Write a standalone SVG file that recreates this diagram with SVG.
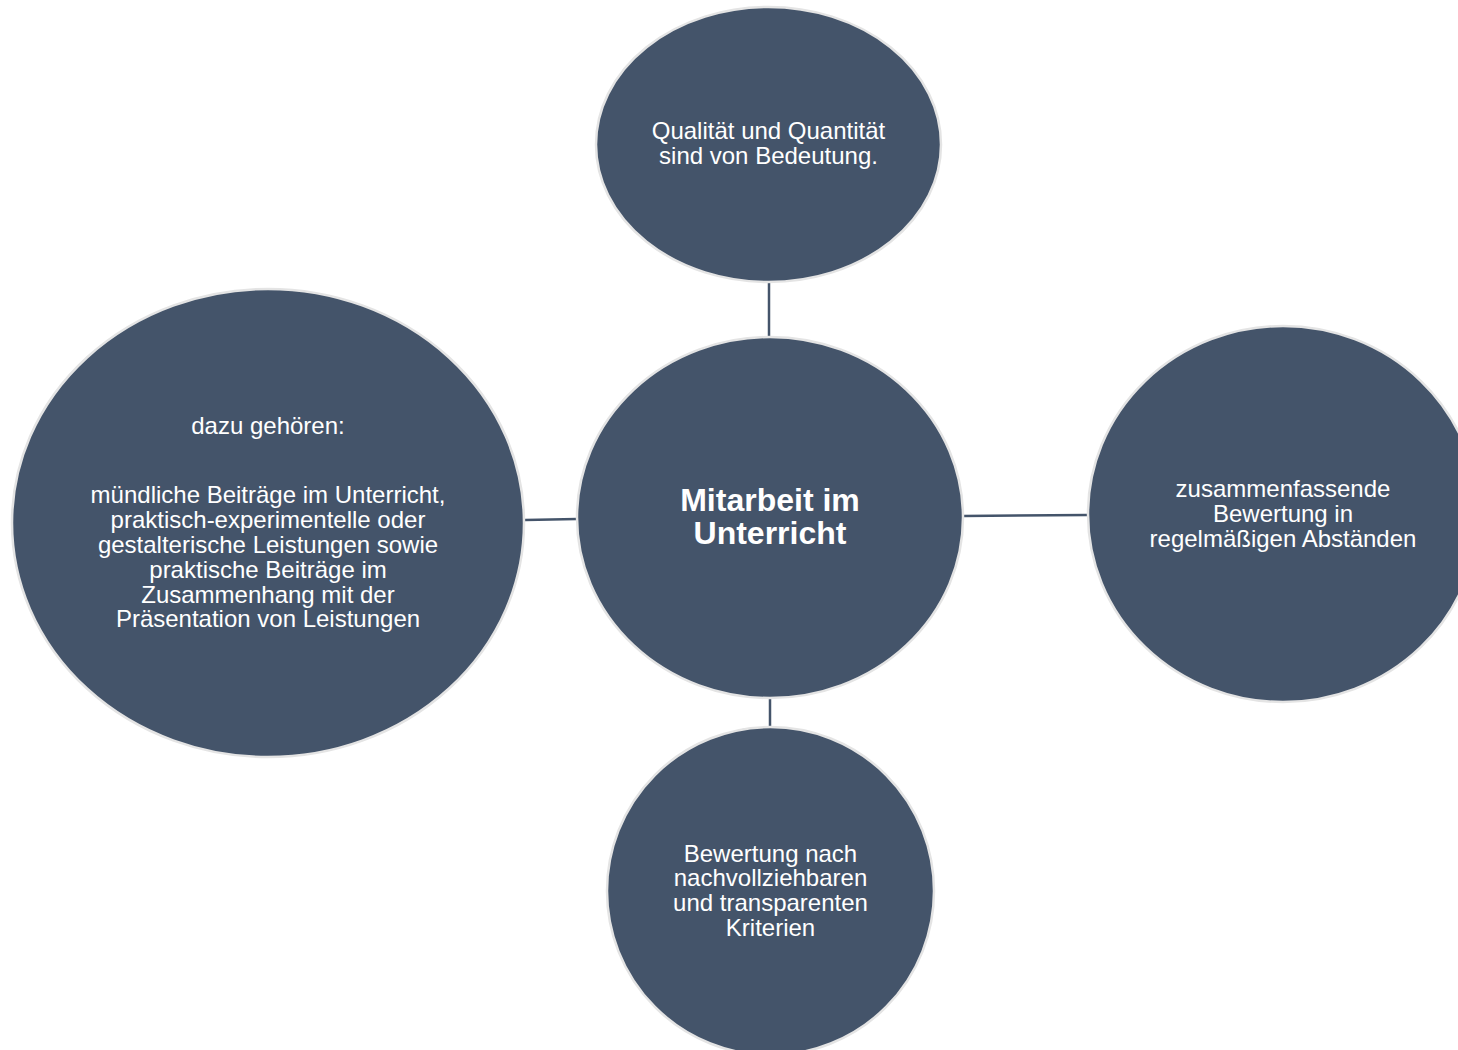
<svg xmlns="http://www.w3.org/2000/svg" width="1458" height="1050" viewBox="0 0 1458 1050">
  <style>
    .node { fill: #44546a; stroke: #e4e4e4; stroke-width: 2.5; }
    .edge { stroke: #44546a; stroke-width: 2.5; fill: none; }
    .label { fill: #ffffff; font-family: "Liberation Sans", Arial, sans-serif; font-size: 24px; text-anchor: middle; }
    .title { fill: #ffffff; font-family: "Liberation Sans", Arial, sans-serif; font-size: 32px; font-weight: bold; text-anchor: middle; }
  </style>
  <rect width="1458" height="1050" fill="#ffffff"/>

  <!-- connectors between the hub and its satellites -->
  <g id="connectors">
    <line class="edge" x1="769" y1="283" x2="769" y2="337"/>
    <line class="edge" x1="525" y1="520" x2="577" y2="519"/>
    <line class="edge" x1="963" y1="516" x2="1087" y2="515"/>
    <line class="edge" x1="770" y1="698" x2="770" y2="727"/>
  </g>

  <g id="node-top">
    <ellipse class="node" cx="768.5" cy="144.5" rx="172.5" ry="137.5"/>
    <text class="label" x="768.5" y="139">Qualität und Quantität</text>
    <text class="label" x="768.5" y="164">sind von Bedeutung.</text>
  </g>

  <g id="node-center">
    <ellipse class="node" cx="770" cy="517.5" rx="193" ry="180.5"/>
    <text class="title" x="770" y="511">Mitarbeit im</text>
    <text class="title" x="770" y="544">Unterricht</text>
  </g>

  <g id="node-left">
    <ellipse class="node" cx="268" cy="523" rx="256" ry="234"/>
    <text class="label" x="268" y="434">dazu gehören:</text>
    <text class="label" x="268" y="503">mündliche Beiträge im Unterricht,</text>
    <text class="label" x="268" y="528">praktisch-experimentelle oder</text>
    <text class="label" x="268" y="553">gestalterische Leistungen sowie</text>
    <text class="label" x="268" y="578">praktische Beiträge im</text>
    <text class="label" x="268" y="603">Zusammenhang mit der</text>
    <text class="label" x="268" y="627">Präsentation von Leistungen</text>
  </g>

  <g id="node-right">
    <ellipse class="node" cx="1283" cy="514" rx="195" ry="188"/>
    <text class="label" x="1283" y="497">zusammenfassende</text>
    <text class="label" x="1283" y="522">Bewertung in</text>
    <text class="label" x="1283" y="547">regelmäßigen Abständen</text>
  </g>

  <g id="node-bottom">
    <ellipse class="node" cx="770.5" cy="891" rx="163.5" ry="164"/>
    <text class="label" x="770.5" y="862">Bewertung nach</text>
    <text class="label" x="770.5" y="886">nachvollziehbaren</text>
    <text class="label" x="770.5" y="911">und transparenten</text>
    <text class="label" x="770.5" y="936">Kriterien</text>
  </g>
</svg>
